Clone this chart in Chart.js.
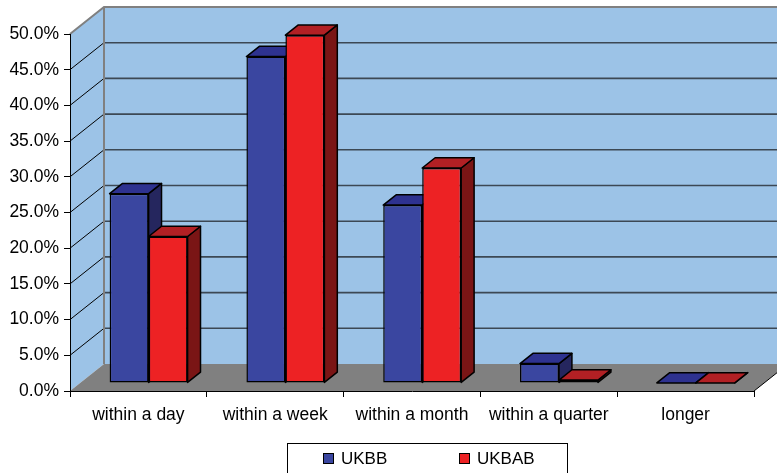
<!DOCTYPE html>
<html>
<head>
<meta charset="utf-8">
<script src="https://cdn.jsdelivr.net/npm/chart.js@4.4.0/dist/chart.umd.min.js"></script>
<style>
  html, body { margin: 0; padding: 0; background: #fff; }
  canvas { display: block; }
</style>
</head>
<body>
<canvas id="chart" width="777" height="473"></canvas>
<script>
// Time-to-resolution shares, two series, drawn as Excel-style 3D columns.
const categories = ['within a day', 'within a week', 'within a month', 'within a quarter', 'longer'];
const ukbb  = [26.5, 45.7, 24.9, 2.7, 0];
const ukbab = [20.5, 48.7, 30.1, 0.4, 0];
const seriesNames = ['UKBB', 'UKBAB'];
const yMin = 0, yMax = 50, yStep = 5;

// depth of the box (walls/floor) and where the columns sit inside it
const DEPTH_X = 34, DEPTH_Y = 27;
const BAR_FRONT = 0.3, BAR_DEPTH = 0.38;

const WALL = '#9cc3e7';
const FLOOR = '#808080';
const EDGE = 1.5;
const shades = [
  { front: '#3a46a0', top: '#2e3290', side: '#25265e' },
  { front: '#ed2224', top: '#b22024', side: '#7a1515' },
];

Chart.defaults.font.family = '"Liberation Sans", Arial, sans-serif';
Chart.defaults.font.size = 17;
Chart.defaults.color = '#000';

function poly(ctx, pts) {
  ctx.beginPath();
  ctx.moveTo(pts[0][0], pts[0][1]);
  for (let i = 1; i < pts.length; i++) ctx.lineTo(pts[i][0], pts[i][1]);
  ctx.closePath();
}

const box3d = {
  id: 'box3d',
  // walls, floor and gridlines behind everything
  beforeDraw(chart) {
    const { ctx, chartArea: a, scales: { y } } = chart;
    const L = a.left, R = a.right, T = a.top, B = a.bottom;
    const dx = DEPTH_X, dy = DEPTH_Y;
    ctx.save();
    ctx.fillStyle = WALL;
    poly(ctx, [[L, T], [L + dx, T - dy], [L + dx, B - dy], [L, B]]);
    ctx.fill();
    poly(ctx, [[L + dx, T - dy], [R + dx, T - dy], [R + dx, B - dy], [L + dx, B - dy]]);
    ctx.fill();
    ctx.fillStyle = FLOOR;
    poly(ctx, [[L, B], [R, B], [R + dx, B - dy], [L + dx, B - dy]]);
    ctx.fill();

    for (let v = yMin + yStep; v < yMax; v += yStep) {
      const py = y.getPixelForValue(v);
      ctx.strokeStyle = '#3c4854';
      ctx.lineWidth = 1.6;
      ctx.beginPath();
      ctx.moveTo(L + dx, py - dy);
      ctx.lineTo(R + dx, py - dy);
      ctx.stroke();
      ctx.strokeStyle = '#000';
      ctx.lineWidth = 1;
      ctx.beginPath();
      ctx.moveTo(L, py);
      ctx.lineTo(L + dx, py - dy);
      ctx.stroke();
    }

    ctx.strokeStyle = '#808080';
    ctx.lineWidth = 2;
    ctx.beginPath();
    ctx.moveTo(L, T);
    ctx.lineTo(L + dx, T - dy);
    ctx.lineTo(R + dx, T - dy);
    ctx.moveTo(L + dx, T - dy);
    ctx.lineTo(L + dx, B - dy);
    ctx.stroke();

    ctx.strokeStyle = '#000';
    ctx.lineWidth = 1;
    ctx.beginPath();
    ctx.moveTo(R, B);
    ctx.lineTo(R + dx, B - dy);
    ctx.stroke();
    ctx.restore();
  },
  // Chart.js paints the last dataset first; the 3D faces need left-to-right
  // order, so the default pass is skipped and the columns are painted below.
  beforeDatasetDraw() {
    return false;
  },
  afterDatasetsDraw(chart) {
    const ctx = chart.ctx;
    const bdx = BAR_DEPTH * DEPTH_X, bdy = BAR_DEPTH * DEPTH_Y;
    ctx.save();
    ctx.translate(BAR_FRONT * DEPTH_X, -BAR_FRONT * DEPTH_Y);
    chart.data.datasets.forEach((ds, di) => {
      const sh = shades[di];
      chart.getDatasetMeta(di).data.forEach((bar) => {
        bar.draw(ctx);
        const { x, y, base, width } = bar.getProps(['x', 'y', 'base', 'width'], true);
        const l = x - width / 2, r = x + width / 2;
        ctx.save();
        ctx.strokeStyle = '#000';
        ctx.lineWidth = EDGE;
        ctx.lineJoin = 'round';
        ctx.fillStyle = sh.side;
        poly(ctx, [[r, y], [r + bdx, y - bdy], [r + bdx, base - bdy], [r, base]]);
        ctx.fill();
        ctx.stroke();
        ctx.fillStyle = sh.top;
        poly(ctx, [[l, y], [r, y], [r + bdx, y - bdy], [l + bdx, y - bdy]]);
        ctx.fill();
        ctx.stroke();
        ctx.restore();
      });
    });
    ctx.restore();
  },
};

// boxed legend under the axis
const boxLegend = {
  id: 'boxLegend',
  afterDraw(chart) {
    const ctx = chart.ctx;
    const left = 287, top = 443, w = 280;
    const items = [323, 459];
    ctx.save();
    ctx.strokeStyle = '#000';
    ctx.lineWidth = 1;
    ctx.strokeRect(left + 0.5, top + 0.5, w, 60);
    ctx.font = '17px "Liberation Sans", Arial, sans-serif';
    ctx.textBaseline = 'middle';
    chart.data.datasets.forEach((ds, i) => {
      const sx = items[i];
      ctx.fillStyle = ds.backgroundColor;
      ctx.fillRect(sx + 0.5, 453.5, 10, 10);
      ctx.strokeRect(sx + 0.5, 453.5, 10, 10);
      ctx.fillStyle = '#000';
      ctx.fillText(ds.label, sx + 18, 459.5);
    });
    ctx.restore();
  },
};

new Chart(document.getElementById('chart'), {
  type: 'bar',
  data: {
    labels: categories,
    datasets: [
      { label: seriesNames[0], data: ukbb, backgroundColor: shades[0].front },
      { label: seriesNames[1], data: ukbab, backgroundColor: shades[1].front },
    ],
  },
  options: {
    responsive: false,
    animation: false,
    layout: { padding: { top: 34, right: 23, left: 0, bottom: 0 } },
    datasets: {
      bar: {
        borderColor: '#000',
        borderWidth: EDGE,
        borderSkipped: false,
        categoryPercentage: 0.57,
        barPercentage: 1,
      },
    },
    plugins: { legend: { display: false }, tooltip: { enabled: false } },
    scales: {
      x: {
        grid: { drawOnChartArea: false, drawTicks: true, tickLength: 6, color: '#000', offset: true },
        border: { display: true, color: '#000', width: 1 },
        ticks: { padding: 8, maxRotation: 0, autoSkip: false, font: { size: 17.5 } },
        afterFit: (s) => { s.height = 82; },
      },
      y: {
        min: yMin,
        max: yMax,
        grid: { drawOnChartArea: false, drawTicks: true, tickLength: 6, color: '#000' },
        border: { display: true, color: '#000', width: 1 },
        ticks: { stepSize: yStep, padding: 5, font: { size: 17.5 }, callback: (v) => v.toFixed(1) + '%' },
        afterFit: (s) => { s.width = 70; },
      },
    },
  },
  plugins: [box3d, boxLegend],
});
</script>
</body>
</html>
